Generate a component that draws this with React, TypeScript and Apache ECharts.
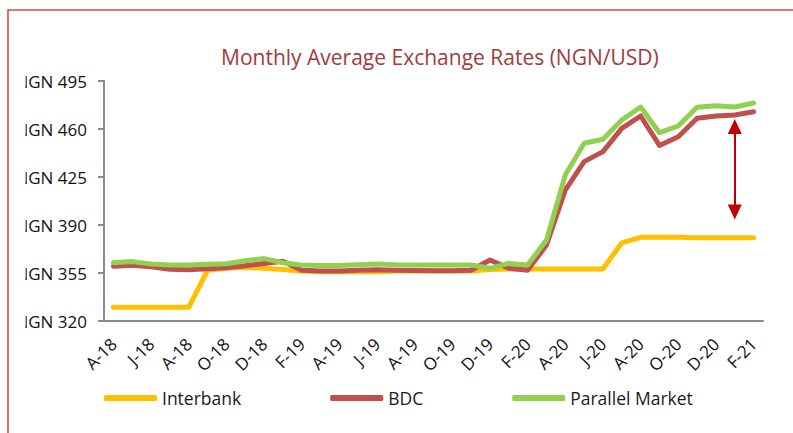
import React, { useEffect, useRef } from 'react';
import * as echarts from 'echarts';

const months = [
  'Apr-18', 'May-18', 'Jun-18', 'Jul-18', 'Aug-18', 'Sep-18', 'Oct-18', 'Nov-18', 'Dec-18',
  'Jan-19', 'Feb-19', 'Mar-19', 'Apr-19', 'May-19', 'Jun-19', 'Jul-19', 'Aug-19', 'Sep-19',
  'Oct-19', 'Nov-19', 'Dec-19', 'Jan-20', 'Feb-20', 'Mar-20', 'Apr-20', 'May-20', 'Jun-20',
  'Jul-20', 'Aug-20', 'Sep-20', 'Oct-20', 'Nov-20', 'Dec-20', 'Jan-21', 'Feb-21',
];

const interbank = [
  330, 330, 330, 330, 330, 357, 358.5, 359, 358.5,
  357.5, 356.5, 356, 356, 356, 356, 356.5, 356.5, 356.5,
  356.5, 356.5, 357.5, 358, 358, 358, 358, 358, 358,
  377, 381, 381, 381, 380.7, 380.7, 380.7, 380.7,
];

const bdc = [
  360, 360.6, 359.6, 357.7, 357.4, 358.1, 358.9, 360.3, 362,
  363.5, 357, 356.5, 356.5, 357, 357.4, 357, 356.8, 356.7,
  356.7, 357, 364.5, 358.4, 357, 375.4, 415.5, 436.2, 443.5,
  460.5, 469.5, 448, 454.4, 467.8, 469.5, 470.2, 472.6,
];

const parallel = [
  362.5, 363.3, 361.6, 360.8, 360.8, 361.3, 361.8, 364, 365.5,
  362.5, 360.8, 360.5, 360.5, 361, 361.6, 361, 360.8, 360.8,
  360.8, 360.8, 358.4, 362, 360.8, 379, 426.5, 449.6, 452.5,
  466.6, 476, 457.3, 462.2, 475.8, 477, 476, 479,
];

const yTicks = [320, 355, 390, 425, 460, 495];

// spread annotation (double-headed arrow) endpoints: [category index, value]
const arrowFrom = [32.65, 461.8];
const arrowTo = [32.96, 399.5];

const FONT = 'Open Sans';

export default function App() {
  const ref = useRef<HTMLDivElement>(null);
  useEffect(() => {
    const chart = echarts.init(ref.current!, null, { renderer: 'svg' });
    chart.setOption({
      animation: false,
      backgroundColor: '#ffffff',
      title: {
        text: 'Monthly Average Exchange Rates (NGN/USD)',
        left: 216,
        top: 41,
        textStyle: { color: '#a33a3c', fontSize: 21, fontWeight: 'normal', fontFamily: FONT },
      },
      grid: { left: 104, right: 30, top: 81, bottom: 112, containLabel: false },
      legend: {
        left: 99,
        top: 384,
        itemWidth: 53,
        itemHeight: 6,
        itemGap: 89,
        icon: 'roundRect',
        textStyle: { color: '#1a1a1a', fontSize: 17.5, fontFamily: FONT },
        data: ['Interbank', 'BDC', 'Parallel Market'],
      },
      xAxis: {
        type: 'category',
        data: months,
        boundaryGap: true,
        axisLine: { lineStyle: { color: '#8a8a8a', width: 2 } },
        axisTick: { interval: 1, length: 6, lineStyle: { color: '#8a8a8a', width: 2 } },
        axisLabel: {
          interval: 1,
          rotate: 45,
          margin: 20,
          color: '#111',
          fontSize: 17,
          fontFamily: FONT,
          formatter: (v: string) => v.charAt(0) + '-' + v.slice(4),
        },
        splitLine: { show: false },
      },
      yAxis: {
        type: 'value',
        min: 320,
        max: 495,
        axisLine: { show: true, lineStyle: { color: '#8a8a8a', width: 2 } },
        axisTick: { show: true, length: 6, customValues: yTicks, lineStyle: { color: '#8a8a8a', width: 2 } },
        axisLabel: {
          customValues: yTicks,
          margin: 17,
          color: '#111',
          fontSize: 17,
          fontFamily: FONT,
          formatter: (v: number) => 'NGN ' + v,
        },
        splitLine: { show: false },
      },
      series: [
        {
          name: 'Interbank',
          type: 'line',
          data: interbank,
          showSymbol: false,
          symbol: 'none',
          color: '#ffc000',
          lineStyle: { color: '#ffc000', width: 5, cap: 'round', join: 'round' },
          z: 2,
        },
        {
          name: 'BDC',
          type: 'line',
          data: bdc,
          showSymbol: false,
          symbol: 'none',
          color: '#c0504d',
          lineStyle: { color: '#c0504d', width: 5, cap: 'round', join: 'round' },
          z: 3,
        },
        {
          name: 'Parallel Market',
          type: 'line',
          data: parallel,
          showSymbol: false,
          symbol: 'none',
          color: '#92d050',
          lineStyle: { color: '#92d050', width: 5, cap: 'round', join: 'round' },
          z: 4,
          markLine: {
            silent: true,
            symbol: ['triangle', 'triangle'],
            symbolSize: [14, 15],
            label: { show: false },
            lineStyle: { color: '#c00000', width: 2, type: 'solid' },
            emphasis: { disabled: true },
            data: [[{ coord: arrowFrom }, { coord: arrowTo }]],
            z: 10,
          },
        },
      ],
      graphic: [
        {
          type: 'rect',
          z: 100,
          shape: { x: 10, y: 70, width: 15.5, height: 265 },
          style: { fill: '#ffffff' },
          silent: true,
        },
        {
          type: 'rect',
          z: 101,
          shape: { x: 8, y: 10, width: 830, height: 470 },
          style: { fill: 'none', stroke: '#d54b4b', lineWidth: 1.6 },
          silent: true,
        },
      ],
    });
    return () => chart.dispose();
  }, []);
  return (
    <div
      ref={ref}
      style={{ position: 'fixed', left: 0, top: 0, width: 793, height: 433 }}
    />
  );
}
